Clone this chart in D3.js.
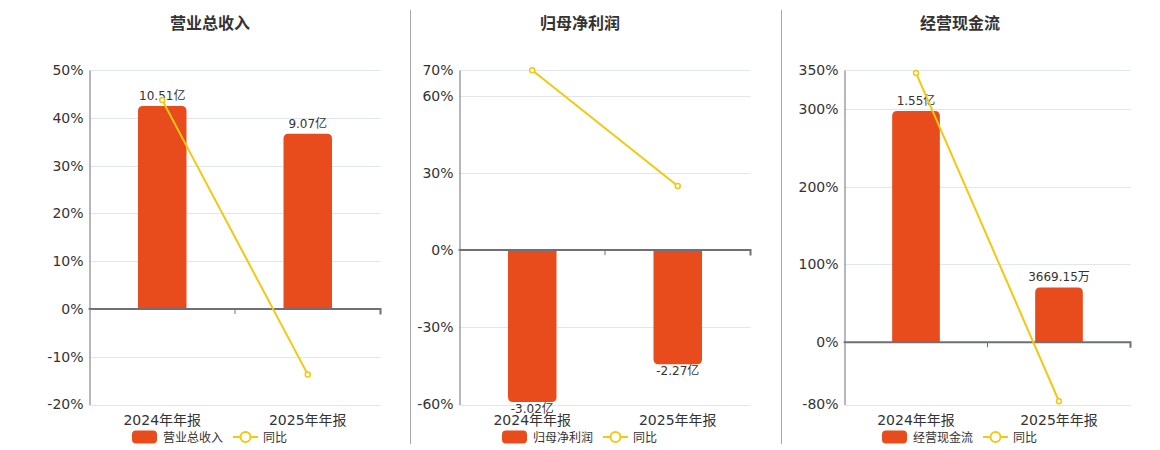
<!DOCTYPE html>
<html><head><meta charset="utf-8">
<script src="https://cdn.jsdelivr.net/npm/d3@7"></script>
<style>
html,body{margin:0;padding:0;background:#fff;}
svg{display:block;font-family:"DejaVu Sans","Noto Sans CJK SC",sans-serif;}
</style></head>
<body><svg id="c" width="1160" height="450"></svg>
<script>
// ---- data ----
const categories = ["2024年年报", "2025年年报"];

const revenueTitle = "营业总收入";
const revenue = [10.51, 9.07];            // 亿
const revenueLabels = ["10.51亿", "9.07亿"];
const revenueYoY = [43.7, -13.7];         // %
const revenueTicks = [-20, -10, 0, 10, 20, 30, 40, 50];

const profitTitle = "归母净利润";
const profit = [-3.02, -2.27];            // 亿
const profitLabels = ["-3.02亿", "-2.27亿"];
const profitYoY = [69.9, 24.9];
const profitTicks = [-60, -30, 0, 30, 60, 70];

const cashTitle = "经营现金流";
const cash = [1.55, 0.366915];            // 亿
const cashLabels = ["1.55亿", "3669.15万"];
const cashYoY = [346.3, -75.8];
const cashTicks = [-80, 0, 100, 200, 300, 350];

const yoyName = "同比";

// ---- style / layout ----
const BAR = "#e84c1d", LINE = "#f2c811", GRID = "#e0e6f1", AXIS = "#6e7079", TXT = "#333";
const TOP = 70, BOTTOM = 404.5;

const panels = [
  {title: revenueTitle, bars: revenue, labels: revenueLabels, yoy: revenueYoY, ticks: revenueTicks,
   left: 89.5, right: 380.5, cx: 210, barRef: 12.37},
  {title: profitTitle, bars: profit, labels: profitLabels, yoy: profitYoY, ticks: profitTicks,
   left: 459.5, right: 750.5, cx: 580, barRef: -3.07},
  {title: cashTitle, bars: cash, labels: cashLabels, yoy: cashYoY, ticks: cashTicks,
   left: 844.5, right: 1130.5, cx: 960, barRef: 1.824}
];

const svg = d3.select("#c");

// dividers
[410.5, 781.5].forEach(x => svg.append("line").attr("x1", x).attr("x2", x)
  .attr("y1", 10).attr("y2", 444).attr("stroke", "#a8a8a8").attr("stroke-width", 1));

function roundedBar(x, w, y0, y1, r) {
  // rounded corners at the far end from zero
  const up = y1 < y0;
  const h = Math.abs(y1 - y0);
  r = Math.min(r, h / 2, w / 2);
  if (up) {
    return `M${x},${y0}V${y1 + r}Q${x},${y1} ${x + r},${y1}H${x + w - r}Q${x + w},${y1} ${x + w},${y1 + r}V${y0}Z`;
  } else {
    return `M${x},${y0}V${y1 - r}Q${x},${y1} ${x + r},${y1}H${x + w - r}Q${x + w},${y1} ${x + w},${y1 - r}V${y0}Z`;
  }
}

panels.forEach(p => {
  const g = svg.append("g");
  const ext = d3.extent(p.ticks);
  const y = d3.scaleLinear().domain(ext).range([BOTTOM, TOP]);
  const x = d3.scaleBand().domain(categories).range([p.left, p.right]);
  // hidden bar axis, zero aligned with the percent axis
  const refPct = p.barRef >= 0 ? ext[1] : ext[0];
  const yb = d3.scaleLinear().domain([0, p.barRef]).range([y(0), y(refPct)]);

  // title
  g.append("text").attr("x", p.cx).attr("y", 29).attr("text-anchor", "middle")
    .attr("font-size", 16).attr("font-weight", "bold").attr("fill", TXT)
    .style("font-family", "'Noto Sans CJK SC',sans-serif").text(p.title);

  // grid
  g.selectAll(".grid").data(p.ticks.filter(t => t !== 0)).enter().append("line")
    .attr("x1", p.left).attr("x2", p.right)
    .attr("y1", d => Math.round(y(d)) + 0.5).attr("y2", d => Math.round(y(d)) + 0.5)
    .attr("stroke", GRID).attr("stroke-width", 1);

  // y axis
  const ya = d3.axisLeft(y).tickValues(p.ticks).tickSize(0).tickPadding(6).tickFormat(d => d + "%");
  const yg = g.append("g").attr("transform", `translate(${p.left},0)`).call(ya);
  yg.select(".domain").attr("stroke", AXIS).attr("stroke-width", 1);
  yg.selectAll("text").attr("font-size", 14).attr("fill", TXT)
    .style("font-family", "'DejaVu Sans',sans-serif");

  // bars
  const bw = x.bandwidth() / 3;
  g.selectAll(".bar").data(p.bars).enter().append("path")
    .attr("d", (d, i) => roundedBar(x(categories[i]) + (x.bandwidth() - bw) / 2, bw, y(0), yb(d), 5))
    .attr("fill", BAR);

  // bar labels
  g.selectAll(".bl").data(p.bars).enter().append("text")
    .attr("x", (d, i) => x(categories[i]) + x.bandwidth() / 2)
    .attr("y", d => d >= 0 ? yb(d) - 6 : yb(d) + 11)
    .attr("text-anchor", "middle").attr("font-size", 12).attr("fill", TXT)
    .text((d, i) => p.labels[i]);

  // zero axis
  const za = d3.axisBottom(x).tickSize(5).tickFormat("");
  const zg = g.append("g").attr("transform", `translate(0,${y(0)})`).call(za);
  zg.select(".domain").attr("stroke", AXIS).attr("stroke-width", 2)
    .attr("d", `M${p.left},0.5V0H${p.right}V5.5`);
  zg.selectAll(".tick line").attr("stroke", AXIS)
    .attr("transform", `translate(${x.bandwidth() / 2},0)`);
  zg.selectAll(".tick").filter((d, i) => i === categories.length - 1).remove();

  // x labels
  g.selectAll(".xl").data(categories).enter().append("text")
    .attr("x", d => x(d) + x.bandwidth() / 2).attr("y", 425)
    .attr("text-anchor", "middle").attr("font-size", 14).attr("fill", TXT).text(d => d);

  // yoy line
  const line = d3.line().x((d, i) => x(categories[i]) + x.bandwidth() / 2).y(d => y(d));
  g.append("path").datum(p.yoy).attr("d", line).attr("fill", "none")
    .attr("stroke", LINE).attr("stroke-width", 2);
  g.selectAll(".pt").data(p.yoy).enter().append("circle")
    .attr("cx", (d, i) => x(categories[i]) + x.bandwidth() / 2).attr("cy", d => y(d))
    .attr("r", 2.5).attr("fill", "#fff").attr("stroke", LINE).attr("stroke-width", 1.5);

  // legend
  const lx = p.cx - 78, ly = 437;
  g.append("rect").attr("x", lx).attr("y", ly - 6.5).attr("width", 25).attr("height", 13)
    .attr("rx", 4).attr("fill", BAR);
  g.append("text").attr("x", lx + 31).attr("y", ly + 4.5).attr("font-size", 12).attr("fill", TXT)
    .style("font-family", "'Noto Sans CJK SC',sans-serif").text(p.title);
  g.append("line").attr("x1", lx + 101).attr("x2", lx + 126).attr("y1", ly).attr("y2", ly)
    .attr("stroke", LINE).attr("stroke-width", 2);
  g.append("circle").attr("cx", lx + 113.5).attr("cy", ly).attr("r", 5)
    .attr("fill", "#fff").attr("stroke", LINE).attr("stroke-width", 2);
  g.append("text").attr("x", lx + 131).attr("y", ly + 4.5).attr("font-size", 12).attr("fill", TXT)
    .style("font-family", "'Noto Sans CJK SC',sans-serif").text(yoyName);
});
</script></body></html>
